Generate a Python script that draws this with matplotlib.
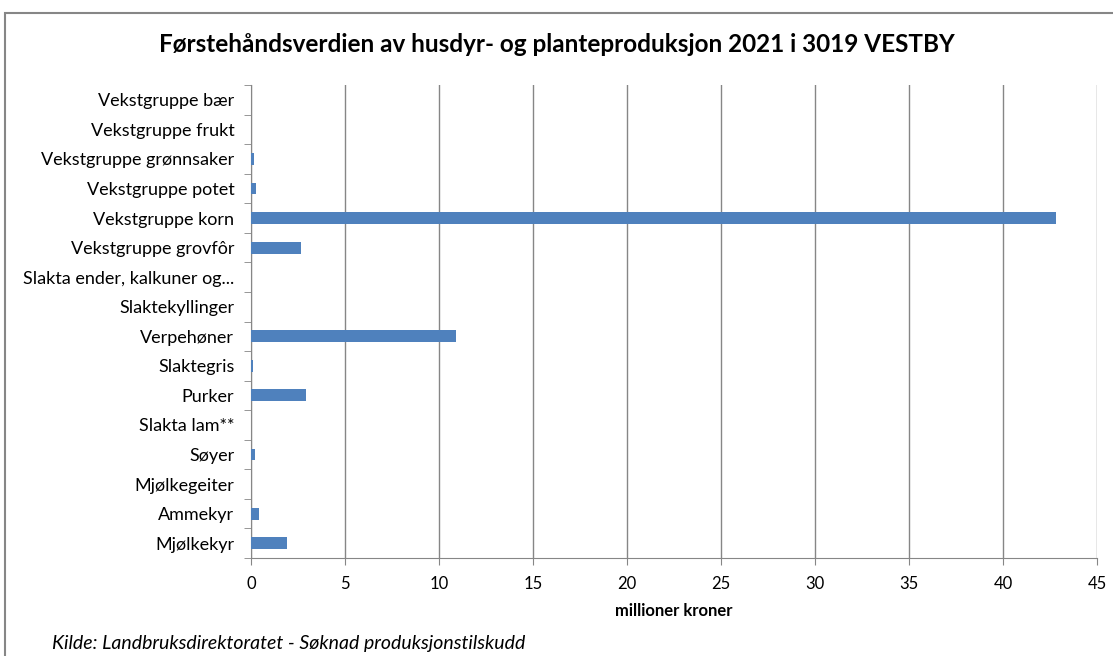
import matplotlib.pyplot as plt
from matplotlib.patches import Rectangle

plt.rcParams['font.family'] = ['Lato', 'DejaVu Sans']

categories = ['Mjølkekyr', 'Ammekyr', 'Mjølkegeiter', 'Søyer', 'Slakta lam**',
              'Purker', 'Slaktegris', 'Verpehøner', 'Slaktekyllinger',
              'Slakta ender, kalkuner og...', 'Vekstgruppe grovfôr',
              'Vekstgruppe korn', 'Vekstgruppe potet', 'Vekstgruppe grønnsaker',
              'Vekstgruppe frukt', 'Vekstgruppe bær']
values = [1.93, 0.43, 0.0, 0.23, 0.0, 2.93, 0.12, 10.9, 0.0, 0.0, 2.68,
          42.8, 0.27, 0.18, 0.0, 0.0]
xticks = [0, 5, 10, 15, 20, 25, 30, 35, 40, 45]

fig = plt.figure(figsize=(11.13, 6.56), dpi=100)
ax = fig.add_axes([251/1113, 1 - 558/656, (1097-251)/1113, (558-85)/656])

ax.barh(range(len(categories)), values, height=0.4, color='#4F81BD', zorder=3)
ax.set_xlim(0, 45)
ax.set_ylim(-0.5, len(categories) - 0.5)
ax.set_xticks(xticks)
ax.set_xticklabels([str(t) for t in xticks], fontsize=12)
ax.set_yticks(range(len(categories)))
ax.set_yticklabels(categories, fontsize=13)
ax.set_yticks([i - 0.5 for i in range(len(categories) + 1)], minor=True)
ax.tick_params(axis='y', which='major', length=0, pad=12)
ax.tick_params(axis='y', which='minor', length=5, color='#868686')
ax.tick_params(axis='x', length=5, color='#868686', pad=8)
ax.grid(axis='x', color='#868686', linewidth=1, zorder=0)
for s in ['top', 'right']:
    ax.spines[s].set_visible(False)
ax.spines['left'].set_color('#868686')
ax.spines['bottom'].set_color('#868686')

ax.set_xlabel('millioner kroner', fontsize=12, fontweight='bold', labelpad=8)
fig.text(0.5, 1 - 45/656, 'Førstehåndsverdien av husdyr- og planteproduksjon 2021 i 3019 VESTBY',
         ha='center', va='center', fontsize=17.5, fontweight='bold')
fig.text(52/1113, 1 - 643/656, 'Kilde: Landbruksdirektoratet - Søknad produksjonstilskudd',
         ha='left', va='center', fontsize=14, style='italic')

fig.patches.append(Rectangle((5/1113, -0.1), 1.1, 1 - 13/656 + 0.1,
                             transform=fig.transFigure, fill=False,
                             edgecolor='#868686', linewidth=1.5))

fig.savefig('out.png', dpi=100)
